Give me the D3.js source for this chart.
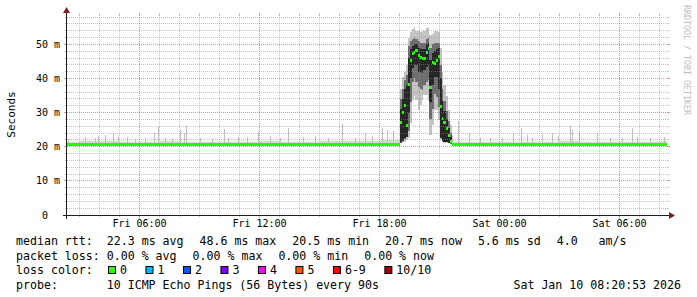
<!DOCTYPE html>
<html>
<head>
<meta charset="utf-8">
<title>SmokePing latency</title>
<script src="https://d3js.org/d3.v7.min.js"></script>
<style>
  body { margin: 0; background: #fff; }
  svg { display: block; background: #fff; }
  text { font-family: "DejaVu Sans Mono", monospace; fill: #000; white-space: pre; }
</style>
</head>
<body>
<svg id="chart" width="697" height="297"></svg>
<script>
// ---- data (milliseconds) ----
const yMax = 58.6;
const startTime = new Date(2026, 0, 9, 2, 22, 30);
const endTime = new Date(2026, 0, 10, 8, 22, 30);

// hourly baseline: median rtt and top of the light smoke
const baseHours = [
  "2026-01-09 02:00", "2026-01-09 03:00", "2026-01-09 04:00", "2026-01-09 05:00",
  "2026-01-09 06:00", "2026-01-09 07:00", "2026-01-09 08:00", "2026-01-09 09:00",
  "2026-01-09 10:00", "2026-01-09 11:00", "2026-01-09 12:00", "2026-01-09 13:00",
  "2026-01-09 14:00", "2026-01-09 15:00", "2026-01-09 16:00", "2026-01-09 17:00",
  "2026-01-09 18:00", "2026-01-09 19:00", "2026-01-09 20:00", "2026-01-09 21:00",
  "2026-01-09 22:00", "2026-01-09 23:00", "2026-01-10 00:00", "2026-01-10 01:00",
  "2026-01-10 02:00", "2026-01-10 03:00", "2026-01-10 04:00", "2026-01-10 05:00",
  "2026-01-10 06:00", "2026-01-10 07:00", "2026-01-10 08:00"
];
const baseMedian = [20.8, 20.7, 20.7, 20.6, 20.7, 20.7, 20.6, 20.7, 20.6, 20.7, 20.6, 20.6,
  20.7, 20.7, 20.6, 20.7, 20.8, 20.8, 20.8, 20.8, 20.7, 20.6, 20.7, 20.6,
  20.6, 20.7, 20.6, 20.7, 20.6, 20.6, 20.7];
const baseTop = [21.5, 21.7, 21.6, 21.4, 21.5, 21.7, 21.4, 21.5, 21.4, 21.4, 21.6, 21.5,
  21.4, 21.6, 21.7, 21.8, 21.9, 21.9, 21.9, 21.4, 21.4, 21.5, 21.4, 21.5,
  21.4, 21.6, 21.5, 21.4, 21.5, 21.4, 21.6];

// single slow samples (max ping) outside the busy period
const spikeTimes = [
  "2026-01-09 02:28", "2026-01-09 03:19", "2026-01-09 03:49", "2026-01-09 03:58",
  "2026-01-09 04:19", "2026-01-09 04:43", "2026-01-09 04:58", "2026-01-09 05:25",
  "2026-01-09 05:49", "2026-01-09 06:19", "2026-01-09 06:46", "2026-01-09 06:58",
  "2026-01-09 07:19", "2026-01-09 07:40", "2026-01-09 08:04", "2026-01-09 08:16",
  "2026-01-09 08:22", "2026-01-09 09:04", "2026-01-09 09:40", "2026-01-09 10:16",
  "2026-01-09 10:28", "2026-01-09 10:58", "2026-01-09 11:25", "2026-01-09 11:58",
  "2026-01-09 12:34", "2026-01-09 13:04", "2026-01-09 13:28", "2026-01-09 14:13",
  "2026-01-09 14:49", "2026-01-09 15:28", "2026-01-09 16:10", "2026-01-09 16:49",
  "2026-01-09 17:19", "2026-01-09 17:40", "2026-01-09 18:10", "2026-01-09 18:25",
  "2026-01-09 18:43", "2026-01-09 21:40", "2026-01-09 21:58", "2026-01-09 22:31",
  "2026-01-09 23:04", "2026-01-09 23:34", "2026-01-10 00:10", "2026-01-10 00:43",
  "2026-01-10 01:07", "2026-01-10 01:25", "2026-01-10 01:40", "2026-01-10 02:10",
  "2026-01-10 02:40", "2026-01-10 02:58", "2026-01-10 03:34", "2026-01-10 03:40",
  "2026-01-10 04:01", "2026-01-10 04:55", "2026-01-10 05:34", "2026-01-10 06:10",
  "2026-01-10 06:40", "2026-01-10 06:55", "2026-01-10 07:34", "2026-01-10 08:16"
];
const spikeMax = [
  22.2, 22.9, 22.6, 23.2, 23.4, 23.9, 22.9, 23.0,
  22.4, 22.2, 23.9, 25.8, 22.5, 22.2, 24.9, 23.9,
  26.1, 22.5, 22.2, 25.1, 22.5, 23.0, 23.0, 24.2,
  23.2, 22.6, 25.5, 23.0, 23.2, 22.6, 26.8, 22.5,
  23.9, 23.2, 25.5, 24.9, 24.5, 23.4, 27.5, 23.9,
  23.0, 22.5, 22.6, 23.9, 25.5, 23.5, 23.0, 23.7,
  23.9, 23.2, 26.0, 24.9, 24.5, 23.9, 22.5, 22.6,
  25.5, 23.0, 22.5, 23.0
];

// busy period, 6 minute samples from 19:00
const evStart = "2026-01-09 19:00";
const evStepMin = 6;
const evMin    = [21.0, 21.2, 21.5, 22.0, 22.5, 27.0, 33.7, 35.0, 33.7, 30.7, 32.2, 33.7, 35.1, 35.1, 33.7, 23.4, 26.3, 30.7, 30.7, 27.8, 22.0, 21.5, 21.2, 21.1, 21.0, 20.8];
const evLo     = [21.2, 21.6, 22.2, 22.8, 24.5, 33.0, 39.0, 40.0, 39.0, 37.5, 37.0, 36.5, 38.0, 39.0, 39.5, 28.0, 31.0, 35.5, 34.5, 31.5, 23.0, 21.8, 21.5, 21.3, 21.1, 20.9];
const evCoreLo = [21.3, 21.8, 22.5, 23.0, 30.0, 40.0, 43.0, 44.0, 44.0, 42.0, 42.0, 41.5, 42.5, 43.5, 44.0, 33.0, 38.0, 40.5, 40.5, 37.0, 22.5, 21.8, 21.5, 21.3, 21.2, 21.1];
const evMedian = [27.0, 30.1, 32.2, 26.3, 38.3, 45.4, 47.2, 47.7, 48.3, 46.8, 46.2, 46.0, 45.8, 47.7, 48.7, 37.5, 44.8, 44.3, 45.3, 46.3, 31.7, 28.4, 27.2, 25.4, 23.4, 21.4];
const evCoreHi = [31.0, 34.0, 37.0, 38.0, 46.0, 48.5, 49.5, 50.0, 50.0, 49.0, 48.5, 48.5, 48.5, 50.0, 50.5, 45.5, 47.5, 48.0, 48.5, 49.0, 40.0, 33.5, 30.5, 28.0, 25.5, 23.0];
const evHi     = [34.0, 37.0, 39.5, 41.0, 49.5, 51.0, 51.5, 52.0, 51.5, 51.0, 50.5, 50.5, 50.5, 51.5, 52.0, 49.0, 50.0, 50.5, 50.5, 50.5, 44.0, 37.0, 33.5, 30.5, 27.5, 24.0];
const evMax    = [37.0, 40.5, 42.0, 44.0, 52.0, 53.6, 54.5, 55.0, 54.0, 54.0, 53.5, 54.0, 54.0, 54.7, 55.0, 52.7, 53.0, 54.0, 54.0, 53.6, 49.0, 42.0, 38.0, 35.0, 30.7, 26.3];

const yTicks = [0, 10, 20, 30, 40, 50];
const lossLabels = ["0", "1", "2", "3", "4", "5", "6-9", "10/10"];
const lossColors = ["#26ff00", "#00b8ff", "#0059ff", "#7e00ff", "#ff00ff", "#ff5500", "#ff0000", "#a10000"];

// ---- drawing ----
const parseTime = d3.timeParse("%Y-%m-%d %H:%M");
const svg = d3.select("#chart");
const x = d3.scaleTime().domain([startTime, endTime]).range([67, 667]);
const y = d3.scaleLinear().domain([0, yMax]).range([215, 15]);

const gData = svg.append("g").attr("shape-rendering", "crispEdges");
const gGrid = svg.append("g").attr("shape-rendering", "crispEdges");
const gAxis = svg.append("g");

const evT0 = parseTime(evStart);
const evT1 = new Date(+evT0 + evMedian.length * evStepMin * 60000);

// baseline bins, cut around the busy period
const baseBins = [];
baseHours.forEach(function(h, i) {
  const t0 = parseTime(h), t1 = new Date(+t0 + 3600000);
  [[t0, t1 < evT0 ? t1 : evT0], [t0 > evT1 ? t0 : evT1, t1]].forEach(function(p) {
    const a = p[0] < startTime ? startTime : p[0];
    const b = p[1] > endTime ? endTime : p[1];
    if (b > a) baseBins.push({a: a, b: b, med: baseMedian[i], top: baseTop[i]});
  });
});

gData.selectAll(".basesmoke").data(baseBins).enter().append("rect")
  .attr("x", d => Math.round(x(d.a)))
  .attr("width", d => Math.round(x(d.b)) - Math.round(x(d.a)))
  .attr("y", d => y(d.top))
  .attr("height", d => y(d.med) - y(d.top))
  .attr("fill", "#d6d6d6");

gData.selectAll(".spike").data(spikeTimes).enter().append("rect")
  .attr("x", d => Math.floor(x(parseTime(d))))
  .attr("width", 1)
  .attr("y", (d, i) => y(spikeMax[i]))
  .attr("height", (d, i) => y(20.7) - y(spikeMax[i]))
  .attr("fill", "#c0c0c0");

const evBins = evMedian.map(function(m, k) {
  const a = new Date(+evT0 + k * evStepMin * 60000);
  return {a: a, b: new Date(+a + evStepMin * 60000), k: k};
});
[[evMin, evMax, "#c4c4c4"], [evLo, evHi, "#6e6e6e"], [evCoreLo, evCoreHi, "#262626"]].forEach(function(band) {
  gData.append("g").selectAll("rect").data(evBins).enter().append("rect")
    .attr("x", d => Math.round(x(d.a)))
    .attr("width", d => Math.round(x(d.b)) - Math.round(x(d.a)))
    .attr("y", d => y(band[1][d.k]))
    .attr("height", d => y(band[0][d.k]) - y(band[1][d.k]))
    .attr("fill", band[2]);
});

// median (loss 0 colour)
gData.selectAll(".medbase").data(baseBins).enter().append("rect")
  .attr("x", d => Math.round(x(d.a)))
  .attr("width", d => Math.round(x(d.b)) - Math.round(x(d.a)))
  .attr("y", d => Math.round(y(d.med) - 1.5))
  .attr("height", 3)
  .attr("fill", lossColors[0]);
gData.selectAll(".medev").data(evBins).enter().append("rect")
  .attr("x", d => Math.round(x(d.a)))
  .attr("width", d => Math.round(x(d.b)) - Math.round(x(d.a)))
  .attr("y", d => Math.round(y(evMedian[d.k]) - 1.5))
  .attr("height", 3)
  .attr("fill", lossColors[0]);

// grid (drawn over the data, as rrdtool does)
const minorCol = "rgba(140,140,140,0.5)", majorCol = "rgba(210,80,80,0.65)";
d3.range(2, yMax, 2).forEach(function(v) {
  const yy = Math.floor(y(v)) + 0.5;
  const c = v % 10 === 0 ? majorCol : minorCol;
  const tl = v % 10 === 0 ? 3 : 2;
  gGrid.append("line").attr("x1", 67).attr("x2", 667).attr("y1", yy).attr("y2", yy)
    .attr("stroke", c).attr("stroke-width", 1).attr("stroke-dasharray", "1 1");
  gGrid.append("line").attr("x1", 67 - tl).attr("x2", 67).attr("y1", yy).attr("y2", yy).attr("stroke", c);
  gGrid.append("line").attr("x1", 667).attr("x2", 667 + tl).attr("y1", yy).attr("y2", yy).attr("stroke", c);
});
d3.timeHour.range(startTime, endTime).forEach(function(t) {
  const xx = Math.floor(x(t)) + 0.5;
  const major = t.getHours() % 6 === 0;
  const c = major ? majorCol : minorCol;
  gGrid.append("line").attr("x1", xx).attr("x2", xx).attr("y1", 15).attr("y2", 215)
    .attr("stroke", c).attr("stroke-width", 1).attr("stroke-dasharray", "1 1");
  gGrid.append("line").attr("x1", xx).attr("x2", xx).attr("y1", 215).attr("y2", major ? 218 : 217).attr("stroke", c);
  gGrid.append("line").attr("x1", xx).attr("x2", xx).attr("y1", 13).attr("y2", 15).attr("stroke", c);
  if (major) {
    svg.append("text").attr("x", xx).attr("y", 227).attr("text-anchor", "middle")
      .attr("font-size", "10px").text(d3.timeFormat("%a %H:%M")(t));
  }
});

// axes and arrows
gAxis.append("line").attr("x1", 63).attr("x2", 671).attr("y1", 215.5).attr("y2", 215.5).attr("stroke", "#1e1e1e");
gAxis.append("line").attr("x1", 66.5).attr("x2", 66.5).attr("y1", 219).attr("y2", 11).attr("stroke", "#1e1e1e");
gAxis.append("path").attr("d", "M669,212L669,219L675,215.5Z").attr("fill", "#7f1f1f");
gAxis.append("path").attr("d", "M63,13L70,13L66.5,7Z").attr("fill", "#7f1f1f");

svg.selectAll(".ylab").data(yTicks).enter().append("text")
  .attr("x", 60).attr("y", d => Math.floor(y(d)) + 4)
  .attr("text-anchor", "end").attr("font-size", "10px")
  .text(d => d === 0 ? "0  " : d + " m");

svg.append("text").attr("transform", "translate(15,114.5) rotate(-90)")
  .attr("text-anchor", "middle").attr("font-size", "11px").text("Seconds");
svg.append("text").attr("transform", "translate(684,5) rotate(90)")
  .attr("font-size", "8.3px").style("fill", "#bdbdbd").text("RRDTOOL / TOBI OETIKER");

// legend
const lf = "11.6px";
function put(str, xx, yy) {
  const t = svg.append("text").attr("x", xx).attr("y", yy).attr("font-size", lf)
    .attr("xml:space", "preserve").text(str);
  return xx + t.node().getComputedTextLength();
}
function legendRow(label, items, yy) {
  let xx = put(label, 16, yy);
  items.forEach(function(s, i) { xx = put(s, xx + (i ? 16 : 0), yy); });
}
legendRow("median rtt:  ", ["22.3 ms avg", "48.6 ms max", "20.5 ms min", "20.7 ms now", "5.6 ms sd", "4.0   am/s"], 245);
legendRow("packet loss: ", ["0.00 % avg", "0.00 % max", "0.00 % min", "0.00 % now"], 259.5);
put("loss color:", 16, 274);
let bx = 108;
lossLabels.forEach(function(l, i) {
  svg.append("rect").attr("x", bx + 0.5).attr("y", 266.5).attr("width", 7).attr("height", 7)
    .attr("fill", lossColors[i]).attr("stroke", "#000");
  bx = put(l, bx + 12, 274) + 18.5;
});
put("probe:       10 ICMP Echo Pings (56 Bytes) every 90s", 16, 288.5);
svg.append("text").attr("x", 681).attr("y", 288.5).attr("text-anchor", "end")
  .attr("font-size", lf).text("Sat Jan 10 08:20:53 2026");
</script>
</body>
</html>
